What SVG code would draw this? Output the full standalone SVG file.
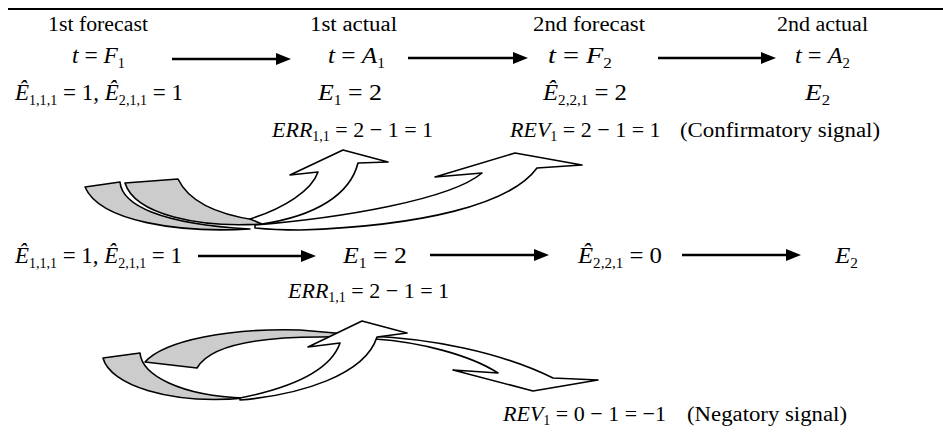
<svg xmlns="http://www.w3.org/2000/svg" width="943" height="433" viewBox="0 0 943 433">
<style>
text{font-family:"Liberation Serif","Times New Roman",serif;fill:#000}
.lb{font-size:20px}
.m{font-size:23px}
.e{font-size:22px}
.i{font-style:italic}
.s{font-size:14px}
.conn{stroke:#000;stroke-width:2.5;fill:none;marker-end:url(#ah)}
.blk{stroke:#000;stroke-width:1.6;stroke-linejoin:round}
.g{fill:#cccccc}
.w{fill:#ffffff}
</style>
<defs>
<marker id="ah" markerUnits="userSpaceOnUse" markerWidth="16" markerHeight="14" refX="6" refY="6" orient="auto"><path d="M0,0 L15,6 L0,12 Z" fill="#000"/></marker>
</defs>
<rect width="943" height="433" fill="#fff"/>
<line x1="8" y1="9" x2="943" y2="9" stroke="#000" stroke-width="2"/>

<g id="n-forecast1">
<text class="lb" x="48" y="31" textLength="100" lengthAdjust="spacingAndGlyphs">1st forecast</text>
<text class="m" x="72" y="63" textLength="53" lengthAdjust="spacingAndGlyphs"><tspan class="i">t</tspan><tspan> = </tspan><tspan class="i">F</tspan><tspan class="s" dy="5">1</tspan></text>
<text class="m" x="15" y="100" textLength="168" lengthAdjust="spacingAndGlyphs"><tspan class="i">Ê</tspan><tspan class="s" dy="5">1,1,1</tspan><tspan dy="-5"> = 1, </tspan><tspan class="i">Ê</tspan><tspan class="s" dy="5">2,1,1</tspan><tspan dy="-5"> = 1</tspan></text>
</g>
<g id="n-actual1">
<text class="lb" x="310" y="31" textLength="87" lengthAdjust="spacingAndGlyphs">1st actual</text>
<text class="m" x="328" y="63" textLength="57" lengthAdjust="spacingAndGlyphs"><tspan class="i">t</tspan><tspan> = </tspan><tspan class="i">A</tspan><tspan class="s" dy="5">1</tspan></text>
<text class="m" x="318" y="100" textLength="64" lengthAdjust="spacingAndGlyphs"><tspan class="i">E</tspan><tspan class="s" dy="5">1</tspan><tspan dy="-5"> = 2</tspan></text>
</g>
<g id="n-forecast2">
<text class="lb" x="533" y="31" textLength="112" lengthAdjust="spacingAndGlyphs">2nd forecast</text>
<text class="m" x="548" y="63" textLength="64" lengthAdjust="spacingAndGlyphs"><tspan class="i">t</tspan><tspan> = </tspan><tspan class="i">F</tspan><tspan class="s" dy="5">2</tspan></text>
<text class="m" x="543" y="100" textLength="84" lengthAdjust="spacingAndGlyphs"><tspan class="i">Ê</tspan><tspan class="s" dy="5">2,2,1</tspan><tspan dy="-5"> = 2</tspan></text>
</g>
<g id="n-actual2">
<text class="lb" x="777" y="31" textLength="91" lengthAdjust="spacingAndGlyphs">2nd actual</text>
<text class="m" x="795" y="63" textLength="55" lengthAdjust="spacingAndGlyphs"><tspan class="i">t</tspan><tspan> = </tspan><tspan class="i">A</tspan><tspan class="s" dy="5">2</tspan></text>
<text class="m" x="805" y="100" textLength="25" lengthAdjust="spacingAndGlyphs"><tspan class="i">E</tspan><tspan class="s" dy="5">2</tspan></text>
</g>
<g id="n-err-top">
<text class="e" x="272" y="137"><tspan class="i">ERR</tspan><tspan class="s" dy="4">1,1</tspan><tspan dy="-4"> = 2 − 1 = 1</tspan></text>
</g>
<g id="n-rev-top">
<text class="e" x="510" y="137"><tspan class="i">REV</tspan><tspan class="s" dy="4">1</tspan><tspan dy="-4"> = 2 − 1 = 1</tspan></text>
<text class="lb" x="680" y="137" textLength="200" lengthAdjust="spacingAndGlyphs">(Confirmatory signal)</text>
</g>

<g id="n-row2-f1">
<text class="m" x="15" y="263" textLength="167" lengthAdjust="spacingAndGlyphs"><tspan class="i">Ê</tspan><tspan class="s" dy="5">1,1,1</tspan><tspan dy="-5"> = 1, </tspan><tspan class="i">Ê</tspan><tspan class="s" dy="5">2,1,1</tspan><tspan dy="-5"> = 1</tspan></text>
</g>
<g id="n-row2-a1">
<text class="m" x="343" y="263" textLength="64" lengthAdjust="spacingAndGlyphs"><tspan class="i">E</tspan><tspan class="s" dy="5">1</tspan><tspan dy="-5"> = 2</tspan></text>
<text class="e" x="288" y="298"><tspan class="i">ERR</tspan><tspan class="s" dy="4">1,1</tspan><tspan dy="-4"> = 2 − 1 = 1</tspan></text>
</g>
<g id="n-row2-f2">
<text class="m" x="578" y="263" textLength="84" lengthAdjust="spacingAndGlyphs"><tspan class="i">Ê</tspan><tspan class="s" dy="5">2,2,1</tspan><tspan dy="-5"> = 0</tspan></text>
</g>
<g id="n-row2-a2">
<text class="m" x="835" y="263" textLength="23" lengthAdjust="spacingAndGlyphs"><tspan class="i">E</tspan><tspan class="s" dy="5">2</tspan></text>
</g>
<g id="n-rev-bottom">
<text class="e" x="503" y="421"><tspan class="i">REV</tspan><tspan class="s" dy="4">1</tspan><tspan dy="-4"> = 0 − 1 = −1</tspan></text>
<text class="lb" x="687" y="421" textLength="160" lengthAdjust="spacingAndGlyphs">(Negatory signal)</text>
</g>

<g id="connectors">
<line class="conn" x1="172" y1="59" x2="282" y2="59"/>
<line class="conn" x1="408" y1="58" x2="519" y2="58"/>
<line class="conn" x1="658" y1="58" x2="767" y2="58"/>
<line class="conn" x1="198" y1="256" x2="307" y2="256"/>
<line class="conn" x1="430" y1="255" x2="540" y2="255"/>
<line class="conn" x1="682" y1="255" x2="792" y2="255"/>

<g id="curved-top">
<path class="blk g" d="M85,187 L120,182 C122,205 160,224 250,229 C180,233 100,222 85,187 Z"/>
<path class="blk g" d="M125,183 L178,179 C188,200 215,214 255,220 L262,224 C200,228 135,215 125,183 Z"/>
<path class="blk w" d="M255,225 C340,218 450,200 482,173 L435,177 L515,153 L582,165 L537,168 C510,205 420,226 300,230 C280,230 265,229 255,228 Z"/>
<path class="blk w" d="M250,219 C285,208 312,190 318,172 L290,175 L343,150 L388,162 L358,163 C350,195 315,216 262,224 Z"/>
</g>
<g id="curved-bottom">
<path class="blk g" d="M145,362 C165,340 230,328 300,330 L370,336 L320,337 C260,337 210,345 197,368 Z"/>
<path class="blk w" d="M365,336 C430,338 500,352 553,378 L598,380 L533,391 L453,370 L498,373 C470,355 420,342 375,339 Z"/>
<path class="blk g" d="M103,358 L140,353 C142,375 180,396 245,398 C170,405 110,385 103,358 Z"/>
<path class="blk w" d="M240,398 C290,388 330,372 340,343 L308,347 L362,321 L407,333 L377,337 C365,375 300,395 240,400 Z"/>
</g>
</g>
</svg>
